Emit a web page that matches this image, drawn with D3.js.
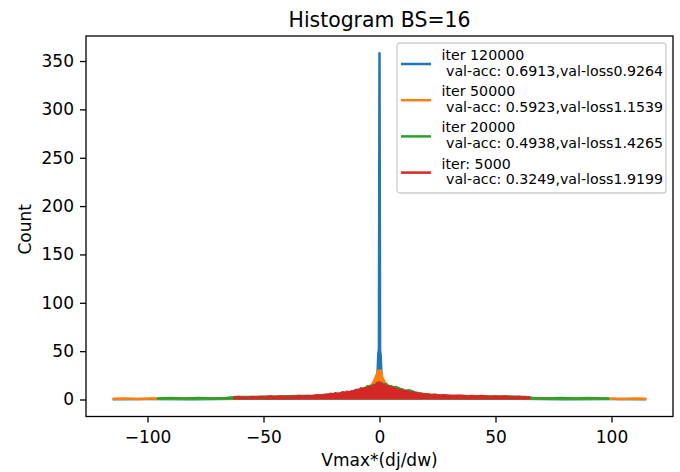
<!DOCTYPE html>
<html>
<head>
<meta charset="utf-8">
<script src="https://cdn.jsdelivr.net/npm/d3@7"></script>
<style>
  body { margin: 0; background: #fff; }
  text { font-family: "DejaVu Sans", sans-serif; fill: #000; }
</style>
</head>
<body>
<div id="chart"></div>
<script>
const margin = {top: 36, right: 7, bottom: 55.5, left: 86};
const W = 680, H = 472;

const titleText = "Histogram BS=16";
const xLabel = "Vmax*(dj/dw)";
const yLabel = "Count";
const xTicks = [-100, -50, 0, 50, 100];
const yTicks = [0, 50, 100, 150, 200, 250, 300, 350];

const seriesNames = ["iter 120000", "iter 50000", "iter 20000", "iter: 5000"];
const seriesStats = [
    " val-acc: 0.6913,val-loss0.9264",
    " val-acc: 0.5923,val-loss1.1539",
    " val-acc: 0.4938,val-loss1.4265",
    " val-acc: 0.3249,val-loss1.9199"
];
const colors = ["#1f77b4", "#ff7f0e", "#2ca02c", "#d62728"];

// [bin value, count]
const iter120000 = [[-115,0.3],[-100,0.5],[-80,0.3],[-60,0.8],[-40,1],[-20,2],[-10,3],[-5,5],[-3,7],[-2,9],
    [-1.3,12],[-0.8,30],[-0.5,48],[-0.25,52],[0,358],[0.25,50],[0.5,46],[0.8,28],[1.3,12],
    [2,9],[3,7],[5,5],[10,3],[20,2],[40,1],[60,0.8],[80,0.3],[100,0.5],[115,0.3]];
const iter50000 = [[-115,0.8],[-110,1],[-104,0.6],[-98,1],[-92,0.8],[-80,1],[-70,1.2],[-60,1.5],[-50,2],
    [-40,2.5],[-30,3],[-20,4],[-12,6],[-8,9],[-5,12],[-3,16],[-2,21],[-1,27],[-0.5,30],[0,29],[0.5,30],
    [1,24],[2,19],[3,15],[5,12],[8,9],[12,6],[20,4],[30,3],[40,2.5],[50,2],[60,1.5],[70,1.2],[80,1],
    [92,0.8],[98,1],[104,0.6],[110,1],[115,0.8]];
const iter20000 = [[-96,1],[-90,1.5],[-84,1],[-78,1.5],[-72,1],[-66,1.5],[-62,2.5],[-55,2.5],[-48,3],
    [-42,3],[-36,3.5],[-30,3.5],[-25,4.5],[-20,5.5],[-16,6.5],[-12,8],[-8,11],[-6,12],[-5,14],[-4,12],
    [-3,15],[-2,14],[-1,17],[0,16],[1,17],[2,15],[3,16],[4,13],[5,14],[6,12],[7,13],[9,11],[11,9],
    [13,9.5],[15,7.5],[18,6],[22,5],[28,4],[35,3.5],[45,3],[55,3],[63,2.5],[66,1.5],[72,1],[78,1.5],
    [84,1],[90,1.5],[96,1],[99,1]];
const iter5000 = [[-63,1.5],[-61,2.5],[-59,2],[-57,1.5],[-55,2.5],[-53,2],[-51,2.5],[-49,2],[-47,3],
    [-45,2],[-43,3],[-41,2.5],[-39,3],[-37,2.5],[-35,3.5],[-33,3],[-31,3.5],[-29,3],[-27,4.5],[-25,4],
    [-23,5],[-22,4.5],[-21,6],[-20,5],[-19,6.5],[-18,5.5],[-17,6],[-16,7.5],[-15,6.5],[-14,8],[-13,7],
    [-12,8.5],[-11,8],[-10,10],[-9,9],[-8,11.5],[-7,10.5],[-6,12],[-5,11],[-4,13.5],[-3,12.5],[-2,15],
    [-1.5,13],[-1,17],[-0.5,14],[0,18],[0.5,15],[1,16],[1.5,13],[2,15],[3,13],[4,14],[5,11],[6,12.5],
    [7,10],[8,10.5],[9,9],[10,10],[11,8],[12,8.5],[13,7],[14,7.5],[15,6.5],[16,6.5],[17,5.5],[18,6],
    [19,5],[20,5.5],[22,4.5],[24,5],[26,4],[28,4.5],[30,4],[32,3.5],[34,4],[36,3.5],[38,3],[40,3.5],
    [42,3],[44,3.5],[46,3],[48,2.5],[50,3],[52,2.5],[54,3],[56,2.5],[58,2],[60,2.5],[62,2],[65,2]];

const series = [iter120000, iter50000, iter20000, iter5000];

function padded(ext) {
    const pad = (ext[1] - ext[0]) * 0.05;
    return [ext[0] - pad, ext[1] + pad];
}

function createChart() {
    const width = W - margin.left - margin.right;
    const height = H - margin.top - margin.bottom;

    const svgRoot = d3.select("#chart")
        .append("svg")
        .attr("width", W)
        .attr("height", H);

    const svg = svgRoot.append("g")
        .attr("transform", "translate(" + margin.left + "," + margin.top + ")");

    const all = series.flat();
    const x = d3.scaleLinear()
        .domain(padded(d3.extent(all, d => d[0])))
        .range([0, width]);
    const y = d3.scaleLinear()
        .domain(padded(d3.extent(all, d => d[1])))
        .range([height, 0]);

    // lines
    series.forEach((data, i) => {
        svg.append("path")
            .datum(data)
            .attr("fill", colors[i])
            .attr("stroke", "none")
            .attr("d", d3.area()
                .x(d => x(d[0]))
                .y0(y(0))
                .y1(d => y(d[1])));
        svg.append("path")
            .datum(data)
            .attr("fill", "none")
            .attr("stroke", colors[i])
            .attr("stroke-width", 2.5)
            .attr("stroke-linejoin", "round")
            .attr("d", d3.line()
                .x(d => x(d[0]))
                .y(d => y(d[1])));
    });

    // X as
    const xAxis = svg.append("g")
        .attr("transform", "translate(0," + height + ")")
        .call(d3.axisBottom(x).tickValues(xTicks).tickSize(6).tickPadding(8)
            .tickFormat(d => d < 0 ? "\u2212" + Math.abs(d) : d));
    // Y as
    const yAxis = svg.append("g")
        .call(d3.axisLeft(y).tickValues(yTicks).tickSize(6).tickPadding(6));

    [xAxis, yAxis].forEach(a => {
        a.select(".domain").remove();
        a.selectAll("line").attr("stroke", "#000").attr("stroke-width", 1.3);
        a.selectAll("text").style("font-size", "17px").attr("fill", "#000");
    });

    // frame
    svg.append("rect")
        .attr("width", width)
        .attr("height", height)
        .attr("fill", "none")
        .attr("stroke", "#000")
        .attr("stroke-width", 1.3);

    svgRoot.append("text")
        .attr("x", margin.left + width / 2)
        .attr("y", 26.5)
        .attr("text-anchor", "middle")
        .style("font-size", "20.4px")
        .text(titleText);

    svgRoot.append("text")
        .attr("x", margin.left + width / 2)
        .attr("y", 466)
        .attr("text-anchor", "middle")
        .style("font-size", "17px")
        .text(xLabel);

    svgRoot.append("text")
        .attr("transform", "translate(31," + (margin.top + height / 2 + 3) + ") rotate(-90)")
        .attr("text-anchor", "middle")
        .style("font-size", "17px")
        .text(yLabel);

    // legend
    const lg = svgRoot.append("g").attr("transform", "translate(397,43)");
    lg.append("rect")
        .attr("width", 269)
        .attr("height", 150)
        .attr("rx", 3)
        .attr("fill", "#fff")
        .attr("fill-opacity", 0.8)
        .attr("stroke", "#cccccc")
        .attr("stroke-width", 1.3);
    seriesNames.forEach((name, i) => {
        const g = lg.append("g").attr("transform", "translate(0," + (i * 36.2) + ")");
        g.append("line")
            .attr("x1", 4).attr("x2", 34)
            .attr("y1", 21).attr("y2", 21)
            .attr("stroke", colors[i])
            .attr("stroke-width", 2.5);
        g.append("text")
            .attr("x", 44.5).attr("y", 17)
            .style("font-size", "14.2px")
            .text(name);
        g.append("text")
            .attr("x", 44.5).attr("y", 32.7)
            .style("font-size", "14.2px")
            .style("white-space", "pre")
            .text(seriesStats[i]);
    });
}

createChart();
</script>
</body>
</html>
